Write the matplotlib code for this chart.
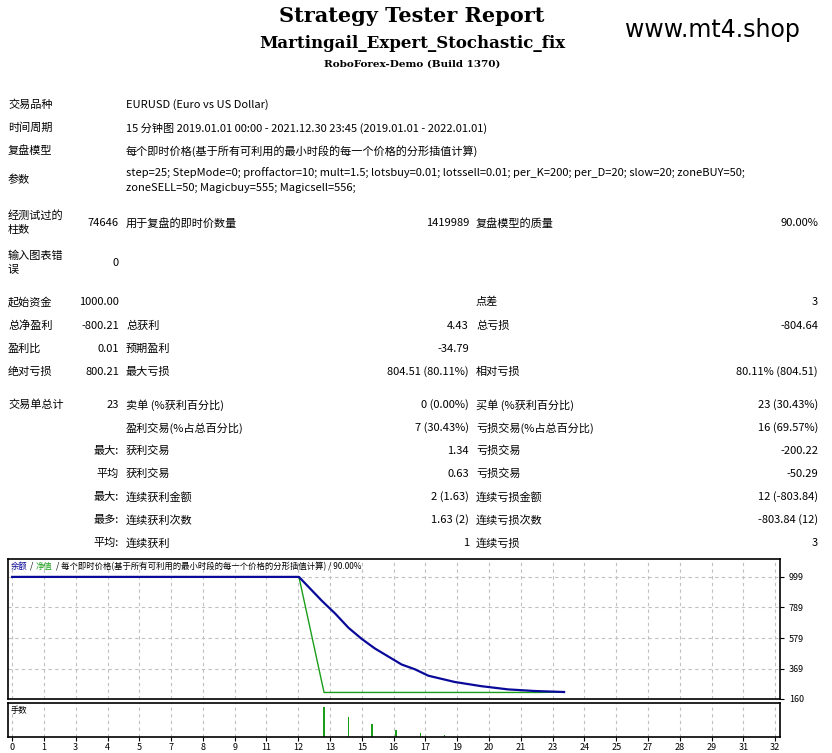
import matplotlib.pyplot as plt

plt.rcParams['font.family'] = ['Noto Sans CJK SC', 'DejaVu Sans']

# chart data (x in tick-index units)
tick_labels = ['0', '1', '3', '4', '5', '7', '8', '9', '11', '12', '13', '15', '16',
               '17', '19', '20', '21', '23', '24', '25', '27', '28', '29', '31', '32']
bal_x = [0, 9.02, 9.74, 10.16, 10.58, 11.0, 11.41, 11.83, 12.25, 12.67, 13.09, 13.92,
         14.76, 15.6, 16.43, 17.36]
bal_y = [999, 999, 835, 747, 649, 572, 507, 452, 397, 364, 320, 277,
         248, 226, 215, 208]
eq_x = [0, 9.02, 9.81, 16.6, 17.36]
eq_y = [999, 999, 205, 205, 208]
lot_x = [9.81, 10.58, 11.32, 12.07, 12.84, 13.59, 14.35]
lot_y = [0.17, 0.11, 0.07, 0.04, 0.02, 0.01, 0.005]
y_ticks = [999, 789, 579, 369, 160]

W, H = 832, 753
fig = plt.figure(figsize=(W / 100, H / 100), dpi=100)


def t(x, y, s, ha='left', **kw):
    kw.setdefault('fontsize', 8)
    fig.text(x / W, 1 - y / H, s, ha=ha, va='center', **kw)


t(412, 16, 'Strategy Tester Report', 'center', fontsize=15, family='DejaVu Serif', weight='bold')
t(412, 44, 'Martingail_Expert_Stochastic_fix', 'center', fontsize=12, family='DejaVu Serif', weight='bold')
t(412, 64, 'RoboForex-Demo (Build 1370)', 'center', fontsize=7.5, family='DejaVu Serif', weight='bold')
t(712, 30, 'www.mt4.shop', 'center', fontsize=17, family='DejaVu Sans')

L, V1, C2, V2, C3, V3 = 8, 119, 126, 469, 476, 818
t(L, 105, '交易品种'); t(C2, 105, 'EURUSD (Euro vs US Dollar)')
t(L, 128, '时间周期'); t(C2, 128, '15 分钟图 2019.01.01 00:00 - 2021.12.30 23:45 (2019.01.01 - 2022.01.01)')
t(L, 151, '复盘模型'); t(C2, 151, '每个即时价格(基于所有可利用的最小时段的每一个价格的分形插值计算)')
t(L, 180, '参数')
t(C2, 173, 'step=25; StepMode=0; proffactor=10; mult=1.5; lotsbuy=0.01; lotssell=0.01; per_K=200; per_D=20; slow=20; zoneBUY=50;')
t(C2, 188, 'zoneSELL=50; Magicbuy=555; Magicsell=556;')
t(L, 216, '经测试过的'); t(L, 230, '柱数')
t(V1, 223, '74646', 'right'); t(C2, 223, '用于复盘的即时价数量')
t(V2, 223, '1419989', 'right'); t(C3, 223, '复盘模型的质量'); t(V3, 223, '90.00%', 'right')
t(L, 256, '输入图表错'); t(L, 270, '误'); t(V1, 263, '0', 'right')

rows = [
    (302, '起始资金', '1000.00', '', '', '点差', '3'),
    (326, '总净盈利', '-800.21', '总获利', '4.43', '总亏损', '-804.64'),
    (349, '盈利比', '0.01', '预期盈利', '-34.79', '', ''),
    (372, '绝对亏损', '800.21', '最大亏损', '804.51 (80.11%)', '相对亏损', '80.11% (804.51)'),
    (405, '交易单总计', '23', '卖单 (%获利百分比)', '0 (0.00%)', '买单 (%获利百分比)', '23 (30.43%)'),
    (428, '', '', '盈利交易(%占总百分比)', '7 (30.43%)', '亏损交易(%占总百分比)', '16 (69.57%)'),
    (451, '', '最大:', '获利交易', '1.34', '亏损交易', '-200.22'),
    (474, '', '平均', '获利交易', '0.63', '亏损交易', '-50.29'),
    (497, '', '最大:', '连续获利金额', '2 (1.63)', '连续亏损金额', '12 (-803.84)'),
    (520, '', '最多:', '连续获利次数', '1.63 (2)', '连续亏损次数', '-803.84 (12)'),
    (543, '', '平均:', '连续获利', '1', '连续亏损', '3'),
]
for y, a, b, c, d, e, f in rows:
    t(L, y, a); t(V1, y, b, 'right'); t(C2, y, c); t(V2, y, d, 'right'); t(C3, y, e); t(V3, y, f, 'right')

# main chart
x0, x1 = 8, 780
ax = fig.add_axes([x0 / W, 1 - 699 / H, (x1 - x0) / W, 140 / H])
ax.plot(eq_x, eq_y, color='#1a9e1a', lw=1)
ax.plot(bal_x, bal_y, color='#0a0a9a', lw=1.6)
ax.set_xlim(-0.13, 24.15)
ax.set_ylim(160, 1122)
ax.yaxis.tick_right()
ax.set_yticks(y_ticks)
ax.set_xticks(range(len(tick_labels)))
ax.tick_params(axis='x', labelbottom=False, length=0)
ax.tick_params(axis='y', labelsize=6.5, length=3)
ax.grid(True, color='#c0c0c0', ls=(0, (3, 3)), lw=0.8)
for s in ax.spines.values():
    s.set_linewidth(1.2)
ax.text(0.003, 0.98, '余额', color='#0a0a9a', fontsize=6, transform=ax.transAxes, va='top')
ax.text(0.028, 0.98, '/', fontsize=6, transform=ax.transAxes, va='top')
ax.text(0.036, 0.98, '净值', color='#1a9e1a', fontsize=6, transform=ax.transAxes, va='top')
ax.text(0.062, 0.98, '/ 每个即时价格(基于所有可利用的最小时段的每一个价格的分形插值计算) / 90.00%',
        fontsize=6, transform=ax.transAxes, va='top')

# lots panel
ax2 = fig.add_axes([x0 / W, 1 - 737 / H, (x1 - x0) / W, 34 / H])
ax2.bar(lot_x, lot_y, width=0.04, color='#1a9e1a')
ax2.set_xlim(-0.13, 24.15)
ax2.set_ylim(0, 0.19)
ax2.set_yticks([])
ax2.set_xticks(range(len(tick_labels)))
ax2.set_xticklabels(tick_labels, fontsize=6.5)
ax2.tick_params(axis='x', length=3, pad=1)
ax2.grid(True, axis='x', color='#c0c0c0', ls=(0, (3, 3)), lw=0.8)
for s in ax2.spines.values():
    s.set_linewidth(1.2)
ax2.text(0.003, 0.9, '手数', fontsize=6, transform=ax2.transAxes, va='top')

fig.savefig('out.png', dpi=100)
